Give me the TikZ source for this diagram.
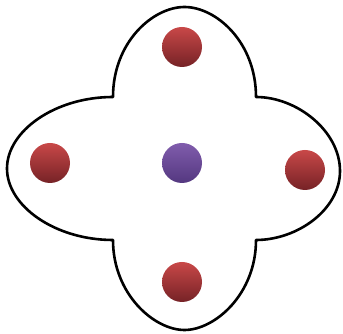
\documentclass[tikz,border=0pt]{standalone}
\begin{document}
\begin{tikzpicture}[x=1pt,y=1pt,
  ball/.style={circle,minimum size=40pt,inner sep=0pt,shading=axis,shading angle=0},
  redball/.style={ball,top color=redtop,bottom color=redbot},
  purpleball/.style={ball,top color=purtop,bottom color=purbot},
  outline/.style={draw=black,line width=2.6pt,line join=round}]
\definecolor{redtop}{RGB}{200,72,72}
\definecolor{redbot}{RGB}{118,34,38}
\definecolor{purtop}{RGB}{128,92,172}
\definecolor{purbot}{RGB}{84,56,128}
\useasboundingbox (0,0) rectangle (343,334);
\draw[outline] (113,237)
  .. controls (113,292) and (153,327) .. (184.5,327)
  .. controls (216,327) and (256,292) .. (256,237)
  .. controls (297,237) and (340,203) .. (340,163)
  .. controls (340,124) and (297,94) .. (256,94)
  .. controls (256,40) and (215,4) .. (184.5,4)
  .. controls (154,4) and (113,40) .. (113,94)
  .. controls (55,94) and (7,128) .. (7,165.5)
  .. controls (7,203) and (55,237) .. (113,237)
  -- cycle;
\node[redball] (topball) at (182,287) {};
\node[redball] (leftball) at (50,171) {};
\node[purpleball] (centerball) at (182,171) {};
\node[redball] (rightball) at (305,164) {};
\node[redball] (bottomball) at (182,52) {};
\end{tikzpicture}
\end{document}
